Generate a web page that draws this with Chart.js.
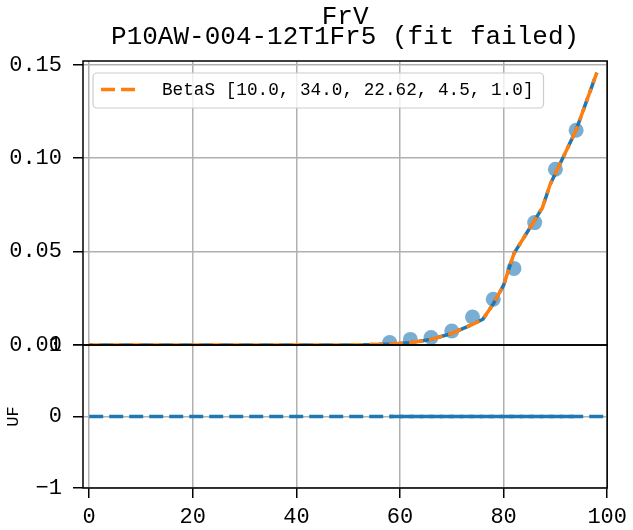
<!DOCTYPE html>
<html>
<head>
<meta charset="utf-8">
<script src="https://cdn.jsdelivr.net/npm/chart.js@4.4.1/dist/chart.umd.min.js"></script>
<style>
  html, body { margin: 0; padding: 0; background: #fff; }
  #wrap { width: 633px; height: 530px; }
</style>
</head>
<body>
<div id="wrap"><canvas id="fitChart" width="633" height="530"></canvas></div>
<script>
// values
const pointX = [58, 62, 66, 70, 74, 78, 82, 86, 90, 94];
const pointY = [0.0013, 0.003, 0.004, 0.0075, 0.015, 0.0245, 0.041, 0.0655, 0.0941, 0.1149];

// fitted curve (BetaS), sampled where the line bends
const fitX = [0, 10, 20, 30, 40, 50, 54, 58, 62, 66, 70, 74, 76, 78, 80, 82, 86, 87.5, 89, 94, 98];
const fitY = [0, 0, 0, 0, 0, 0, 0.0002, 0.0005, 0.0012, 0.003, 0.0062, 0.011, 0.0138, 0.022, 0.032, 0.049, 0.0668, 0.0735, 0.086, 0.115, 0.1458];

// lower panel (UF): everything sits on 0
const ufLineX = [0, 100];
const ufLineY = [0, 0];
const ufPointY = [0, 0, 0, 0, 0, 0, 0, 0, 0, 0];

const xTicks = [0, 20, 40, 60, 80, 100];
const topTicks = [0, 0.05, 0.10, 0.15];
const ufTicks = [-1, 0, 1];

const fitLabel = 'BetaS [10.0, 34.0, 22.62, 4.5, 1.0]';
const titleText = 'FrV';
const subtitleText = 'P10AW-004-12T1Fr5 (fit failed)';

const FONT = "'Liberation Mono', 'DejaVu Sans Mono', monospace";
const BLUE = '#1f77b4';
const ORANGE = '#ff7f0e';

function toXY(xs, ys) {
    return xs.map((x, i) => ({ x: x, y: ys[i] }));
}

function fixedTicks(values) {
    return function(scale) {
        scale.ticks = values.map(v => ({ value: v }));
    };
}

// black frame round each panel (matplotlib spines)
const panelFrames = {
    id: 'panelFrames',
    afterDatasetsDraw(chart) {
        const { ctx, scales } = chart;
        const x = scales.x;
        ctx.save();
        ctx.strokeStyle = '#000';
        ctx.lineWidth = 1.5;
        [scales.y, scales.uf].forEach(s => {
            ctx.strokeRect(x.left, s.top, x.right - x.left, s.bottom - s.top);
        });
        ctx.restore();
    }
};

// legend box inside the upper panel
const boxLegend = {
    id: 'boxLegend',
    afterDatasetsDraw(chart) {
        const ds = chart.data.datasets[0];
        const area = chart.chartArea;
        const ctx = chart.ctx;
        ctx.save();
        ctx.font = '17.7px ' + FONT;
        const left = area.left + 10;
        const top = area.top + 12;
        const textX = left + 69;
        const w = textX + ctx.measureText(ds.label).width + 10 - left;
        const h = 35;
        ctx.beginPath();
        ctx.roundRect(left, top, w, h, 4);
        ctx.fillStyle = 'rgba(255,255,255,0.8)';
        ctx.fill();
        ctx.strokeStyle = '#cccccc';
        ctx.lineWidth = 1.2;
        ctx.stroke();

        ctx.beginPath();
        ctx.setLineDash(ds.borderDash);
        ctx.strokeStyle = ds.borderColor;
        ctx.lineWidth = ds.borderWidth;
        ctx.moveTo(left + 8, top + 16.5);
        ctx.lineTo(left + 45, top + 16.5);
        ctx.stroke();
        ctx.setLineDash([]);

        ctx.fillStyle = '#000';
        ctx.textBaseline = 'middle';
        ctx.fillText(ds.label, textX, top + 17.5);
        ctx.restore();
    }
};

const gridOpts = { color: '#b0b0b0', lineWidth: 1.5, tickColor: '#000', tickLength: 10, tickWidth: 1.5 };
const tickFont = { family: FONT, size: 22 };

new Chart(document.getElementById('fitChart'), {
    type: 'scatter',
    data: {
        datasets: [
            {
                label: fitLabel,
                type: 'line',
                data: toXY(fitX, fitY),
                yAxisID: 'y',
                borderColor: ORANGE,
                borderWidth: 3.5,
                borderDash: [14, 6],
                pointRadius: 0,
                fill: false,
                tension: 0
            },
            {
                label: 'fit',
                type: 'line',
                data: toXY(fitX, fitY),
                yAxisID: 'y',
                borderColor: BLUE,
                borderWidth: 3.5,
                borderDash: [14, 6],
                borderDashOffset: 10,
                pointRadius: 0,
                fill: false,
                tension: 0
            },
            {
                label: 'data',
                data: toXY(pointX, pointY),
                yAxisID: 'y',
                backgroundColor: 'rgba(31,119,180,0.6)',
                borderWidth: 0,
                pointRadius: 7.5
            },
            {
                label: 'UF',
                type: 'line',
                data: toXY(ufLineX, ufLineY),
                yAxisID: 'uf',
                borderColor: BLUE,
                borderWidth: 3.5,
                borderDash: [14, 6],
                pointRadius: 0,
                fill: false
            },
            {
                label: 'UF data',
                type: 'line',
                data: toXY(pointX, ufPointY),
                yAxisID: 'uf',
                borderColor: BLUE,
                borderWidth: 3.5,
                borderDash: [14, 6],
                borderDashOffset: 10,
                pointRadius: 0,
                fill: false
            }
        ]
    },
    options: {
        responsive: false,
        devicePixelRatio: 1,
        animation: false,
        events: [],
        layout: { padding: { left: 0, right: 22, top: 0, bottom: 0 } },
        plugins: {
            legend: { display: false },
            tooltip: { enabled: false },
            title: {
                display: true,
                text: titleText,
                fullSize: false,
                color: '#000',
                font: { family: FONT, size: 26, weight: 'normal', lineHeight: 1.2 },
                padding: { top: 2, bottom: -12 }
            },
            subtitle: {
                display: true,
                text: subtitleText,
                fullSize: false,
                color: '#000',
                font: { family: FONT, size: 26, weight: 'normal', lineHeight: 1.2 },
                padding: { top: 0, bottom: 8.6 }
            }
        },
        scales: {
            x: {
                type: 'linear',
                min: -1.2,
                max: 100,
                afterBuildTicks: fixedTicks(xTicks),
                afterFit: s => { s.height = 42; },
                grid: gridOpts,
                border: { display: false },
                ticks: { color: '#000', font: tickFont, padding: 6, maxRotation: 0, autoSkip: false }
            },
            y: {
                type: 'linear',
                position: 'left',
                stack: 'panels',
                stackWeight: 284,
                weight: 2,
                min: 0,
                max: 0.152,
                afterBuildTicks: fixedTicks(topTicks),
                afterFit: s => { s.width = 83; },
                grid: gridOpts,
                border: { display: false },
                ticks: {
                    color: '#000', font: tickFont, padding: 11, autoSkip: false,
                    callback: v => v.toFixed(2)
                }
            },
            uf: {
                type: 'linear',
                position: 'left',
                stack: 'panels',
                stackWeight: 143,
                weight: 1,
                min: -1,
                max: 1,
                afterBuildTicks: fixedTicks(ufTicks),
                afterFit: s => { s.width = 83; },
                grid: gridOpts,
                border: { display: false },
                title: {
                    display: true,
                    text: 'UF',
                    color: '#000',
                    font: { family: FONT, size: 17 },
                    padding: { top: 3, bottom: 0 }
                },
                ticks: {
                    color: '#000', font: tickFont, padding: 11, autoSkip: false,
                    callback: v => (v < 0 ? '\u2212' + Math.abs(v) : String(v))
                }
            }
        }
    },
    plugins: [panelFrames, boxLegend]
});
</script>
</body>
</html>
